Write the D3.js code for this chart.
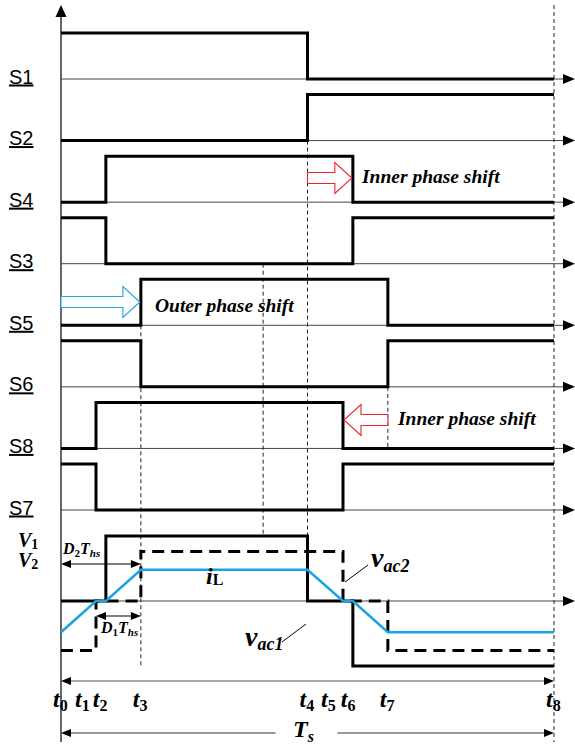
<!DOCTYPE html>
<html>
<head>
<meta charset="utf-8">
<script src="https://cdn.jsdelivr.net/npm/d3@7"></script>
<style>
  html, body { margin: 0; padding: 0; background: #fff; }
  svg { display: block; }
  .serif { font-family: "Liberation Serif", "Times New Roman", serif; font-weight: bold; font-style: italic; }
  .sans { font-family: "Liberation Sans", Arial, sans-serif; }
</style>
</head>
<body>
<svg id="chart" width="575" height="747"></svg>
<script>
// Switching instants t0..t8 as fractions of one switching period Ts
const tickNames = ["0", "1", "2", "3", "4", "5", "6", "7", "8"];
const tickTimes = [0, 0.071, 0.091, 0.162, 0.5, 0.572, 0.592, 0.663, 1];

// Gate signals, one state per interval [t_i, t_i+1)
const gateNames = ["S1", "S2", "S4", "S3", "S5", "S6", "S8", "S7"];
const gateS1 = [1, 1, 1, 1, 0, 0, 0, 0];
const gateS2 = [0, 0, 0, 0, 1, 1, 1, 1];
const gateS4 = [0, 0, 1, 1, 1, 1, 0, 0];
const gateS3 = [1, 1, 0, 0, 0, 0, 1, 1];
const gateS5 = [0, 0, 0, 1, 1, 1, 1, 0];
const gateS6 = [1, 1, 1, 0, 0, 0, 0, 1];
const gateS8 = [0, 1, 1, 1, 1, 0, 0, 0];
const gateS7 = [1, 0, 0, 0, 0, 1, 1, 1];
const gateStates = [gateS1, gateS2, gateS4, gateS3, gateS5, gateS6, gateS8, gateS7];

// Bridge voltages (per interval, normalised to V1) and inductor current at each instant
const vac1Steps = [0, 0, 1, 1, 0, 0, -1, -1];
const vac2Steps = [-0.76, 0, 0, 0.76, 0.76, 0, 0, -0.76];
const iLPoints = [-0.48, 0, 0, 0.48, 0.48, 0, 0, -0.48, -0.48];

// Dashed guide lines (time position)
const guideTimes = [0.162, 0.41, 0.5, 0.663, 1];

const W = 575, H = 747;
const svg = d3.select("#chart");

const x = d3.scaleLinear().domain([0, 1]).range([61, 554]);
const rowY = d3.scalePoint().domain(gateNames).range([79, 510]);
const pulseH = 46;
const yWave = d3.scaleLinear().domain([-1, 1]).range([666, 536]);

function head(g, xt, y, dir, len, half, fill) {
  // filled triangular arrowhead; dir = +1 points right, -1 points left
  g.append("path")
    .attr("d", `M${xt},${y} L${xt - dir * len},${y - half} L${xt - dir * len},${y + half} Z`)
    .attr("fill", fill || "#000");
}

const gThin = svg.append("g");

// vertical time axis
gThin.append("line").attr("x1", x(0)).attr("x2", x(0)).attr("y1", 14).attr("y2", 742)
  .attr("stroke", "#000").attr("stroke-width", 1.2);
gThin.append("path").attr("d", `M${x(0)},5 L${x(0) - 5.5},17 L${x(0) + 5.5},17 Z`).attr("fill", "#000");

// row baselines with arrows
const baseYs = gateNames.map(n => rowY(n)).concat([yWave(0)]);
baseYs.forEach(y => {
  gThin.append("line").attr("x1", x(0)).attr("x2", W - 10).attr("y1", y).attr("y2", y)
    .attr("stroke", "#444").attr("stroke-width", 1);
  head(gThin, W, y, 1, 12, 5);
});

// dashed guides
const guideSpans = [
  [rowY("S5"), yWave(-1) + 1],
  [rowY("S3"), yWave(1)],
  [rowY("S2"), yWave(1)],
  [rowY("S6"), rowY("S8")],
  [5, 742]
];
guideTimes.forEach((t, i) => {
  gThin.append("line").attr("x1", x(t)).attr("x2", x(t))
    .attr("y1", guideSpans[i][0]).attr("y2", guideSpans[i][1])
    .attr("stroke", "#222").attr("stroke-width", 1).attr("stroke-dasharray", "4,3");
});

// gate waveforms
const stepLine = d3.line().curve(d3.curveStepAfter);
gateStates.forEach((states, k) => {
  const y0 = rowY(gateNames[k]);
  const pts = tickTimes.map((t, i) => [x(t), y0 - pulseH * states[Math.min(i, states.length - 1)]]);
  svg.append("path").attr("d", stepLine(pts)).attr("fill", "none")
    .attr("stroke", "#000").attr("stroke-width", 3).attr("stroke-linejoin", "miter");
  svg.append("text").attr("class", "sans").attr("x", 9).attr("y", y0 + 4.5)
    .attr("font-size", 20).attr("text-decoration", "underline").text(gateNames[k]);
});

// vac1 (solid) and vac2 (dashed)
const vac1Pts = tickTimes.map((t, i) => [x(t), yWave(vac1Steps[Math.min(i, 7)])]);
const vac2Pts = tickTimes.map((t, i) => [x(t), yWave(vac2Steps[Math.min(i, 7)])]);
svg.append("path").attr("d", stepLine(vac1Pts)).attr("fill", "none")
  .attr("stroke", "#000").attr("stroke-width", 3);
svg.append("path").attr("d", stepLine(vac2Pts)).attr("fill", "none")
  .attr("stroke", "#000").attr("stroke-width", 3).attr("stroke-dasharray", "12,7");

// inductor current
const iLine = d3.line();
svg.append("path").attr("d", iLine(tickTimes.map((t, i) => [x(t), yWave(iLPoints[i])])))
  .attr("fill", "none").attr("stroke", "#18a4e4").attr("stroke-width", 2.5);

// hollow block arrows marking phase shifts
function blockArrow(xTail, xTip, yc, color) {
  const dir = xTip > xTail ? 1 : -1;
  const headLen = 17, bodyH = 5.5, headH = 15.5;
  const xb = xTip - dir * headLen;
  const d = `M${xTail},${yc - bodyH} L${xb},${yc - bodyH} L${xb},${yc - headH} L${xTip},${yc} ` +
            `L${xb},${yc + headH} L${xb},${yc + bodyH} L${xTail},${yc + bodyH} Z`;
  svg.append("path").attr("d", d).attr("fill", "#fff").attr("stroke", color).attr("stroke-width", 1.1);
}
blockArrow(x(tickTimes[4]), x(tickTimes[6]) - 1, 178, "#e8262c");
blockArrow(x(tickTimes[7]), x(tickTimes[5]) + 1, 420, "#e8262c");
blockArrow(x(tickTimes[0]), x(tickTimes[3]) - 1, 302, "#1ea6e0");

function label(xp, y, txt, size) {
  svg.append("text").attr("class", "serif").attr("x", xp).attr("y", y)
    .attr("font-size", size).text(txt);
}
label(362, 183, "Inner phase shift", 19.5);
label(398, 425, "Inner phase shift", 19.5);
label(155, 312, "Outer phase shift", 19.5);

// text with a subscript part
function subText(xp, y, main, sub, size, subSize, dy, subItalic) {
  const t = svg.append("text").attr("class", "serif").attr("x", xp).attr("y", y).attr("font-size", size);
  t.append("tspan").text(main);
  t.append("tspan").attr("font-size", subSize).attr("dy", dy)
    .attr("font-style", subItalic ? "italic" : "normal").text(sub);
  return t;
}

// V1, V2 levels
subText(18, 547, "V", "1", 20, 14, 2, false);
subText(18, 567, "V", "2", 20, 14, 2, false);

// time instant labels
const nudge = { 1: -13, 2: -5, 5: -14, 6: -4 };
tickTimes.forEach((t, i) => {
  subText(x(t) - 8 + (nudge[i] || 0), 707, "t", tickNames[i], 24, 16, 4, false);
});

// interval arrows
const gA = svg.append("g");
function dblArrow(x1, x2, y, color) {
  gA.append("line").attr("x1", x1 + 6).attr("x2", x2 - 6).attr("y1", y).attr("y2", y)
    .attr("stroke", color).attr("stroke-width", 1.2);
  head(gA, x1, y, -1, 10, 4);
  head(gA, x2, y, 1, 10, 4);
}
dblArrow(x(0), x(tickTimes[3]), 564, "#000");
dblArrow(x(tickTimes[1]), x(tickTimes[3]), 616, "#000");
dblArrow(x(0), x(1), 681, "#555");

// Ts span arrow with a gap for its label
const ym = 733, xm = (x(0) + x(1)) / 2;
gA.append("line").attr("x1", x(0) + 6).attr("x2", xm - 32).attr("y1", ym).attr("y2", ym).attr("stroke", "#333").attr("stroke-width", 1.2);
gA.append("line").attr("x1", xm + 30).attr("x2", x(1) - 6).attr("y1", ym).attr("y2", ym).attr("stroke", "#333").attr("stroke-width", 1.2);
head(gA, x(0), ym, -1, 10, 4);
head(gA, x(1), ym, 1, 10, 4);
subText(293, 737, "T", "s", 24, 16, 5, true);

// D2Ths and D1Ths
function dThs(xp, y, n) {
  const t = svg.append("text").attr("class", "serif").attr("x", xp).attr("y", y).attr("font-size", 16);
  t.append("tspan").text("D");
  t.append("tspan").attr("font-size", 11).attr("dy", 3).attr("font-style", "normal").text(n);
  t.append("tspan").attr("dy", -3).text("T");
  t.append("tspan").attr("font-size", 11).attr("dy", 3).text("hs");
}
dThs(63, 554, "2");
dThs(101, 633, "1");

// waveform labels
subText(206, 584, "i", "L", 24, 16, 1, false);
subText(371, 567, "v", "ac2", 28, 18, 5, true);
subText(245, 646, "v", "ac1", 28, 18, 4, true);
svg.append("line").attr("x1", 345).attr("y1", 582).attr("x2", 368).attr("y2", 565).attr("stroke", "#000").attr("stroke-width", 1);
svg.append("line").attr("x1", 282).attr("y1", 642).attr("x2", 306).attr("y2", 624).attr("stroke", "#000").attr("stroke-width", 1);
</script>
</body>
</html>
